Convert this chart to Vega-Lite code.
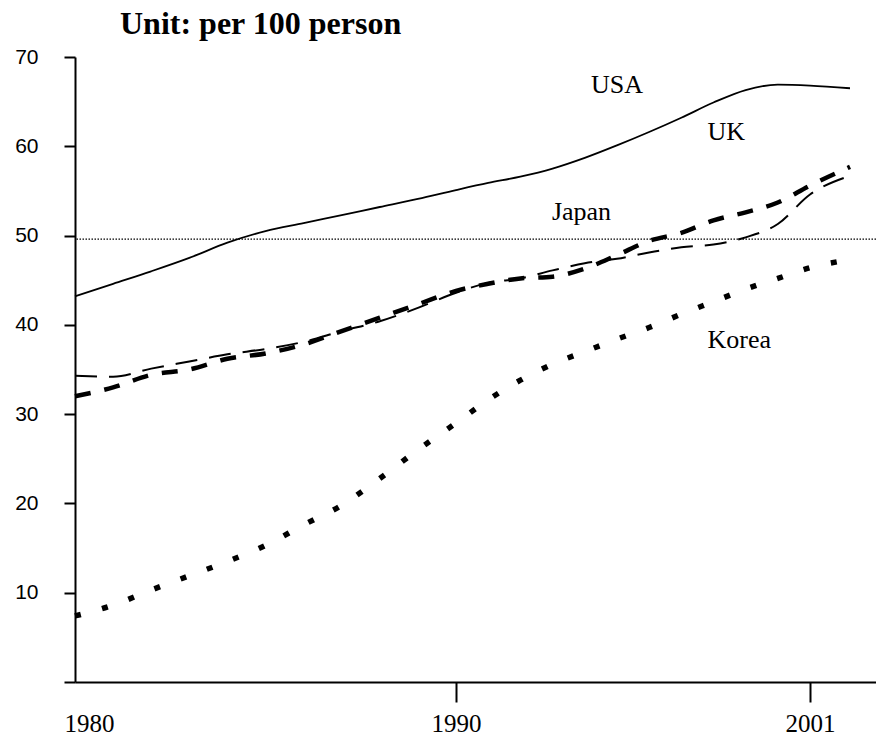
{
  "$schema": "https://vega.github.io/schema/vega-lite/v6.json",
  "width": 801,
  "height": 625,
  "autosize": "none",
  "padding": {"left": 75, "top": 57, "right": 0, "bottom": 53},
  "background": "white",
  "title": {
    "text": "Unit: per 100 person",
    "anchor": "start",
    "frame": "group",
    "dx": 45,
    "dy": 30,
    "offset": 10,
    "baseline": "alphabetic",
    "font": "Liberation Serif",
    "fontSize": 32,
    "fontWeight": "bold",
    "color": "black"
  },
  "config": {
    "view": {"stroke": null},
    "axis": {"grid": false, "domainColor": "black", "tickColor": "black", "labelColor": "black", "title": null}
  },
  "datasets": {
    "series": [
      {"country": "USA", "year": 1980, "value": 43.2}, {"country": "USA", "year": 1981, "value": 44.6}, {"country": "USA", "year": 1982, "value": 46.0}, {"country": "USA", "year": 1983, "value": 47.5}, {"country": "USA", "year": 1984, "value": 49.2}, {"country": "USA", "year": 1985, "value": 50.5}, {"country": "USA", "year": 1986, "value": 51.4}, {"country": "USA", "year": 1987, "value": 52.3}, {"country": "USA", "year": 1988, "value": 53.2}, {"country": "USA", "year": 1989, "value": 54.1}, {"country": "USA", "year": 1990, "value": 55.1}, {"country": "USA", "year": 1991, "value": 55.9}, {"country": "USA", "year": 1992, "value": 56.6}, {"country": "USA", "year": 1993, "value": 57.5}, {"country": "USA", "year": 1994, "value": 58.7}, {"country": "USA", "year": 1995, "value": 60.1}, {"country": "USA", "year": 1996, "value": 61.6}, {"country": "USA", "year": 1997, "value": 63.2}, {"country": "USA", "year": 1998, "value": 64.9}, {"country": "USA", "year": 1999, "value": 66.3}, {"country": "USA", "year": 2000, "value": 66.9}, {"country": "USA", "year": 2001, "value": 66.8}, {"country": "USA", "year": 2002, "value": 66.5},
      {"country": "Japan", "year": 1980, "value": 34.3}, {"country": "Japan", "year": 1981, "value": 34.2}, {"country": "Japan", "year": 1982, "value": 35.1}, {"country": "Japan", "year": 1983, "value": 35.9}, {"country": "Japan", "year": 1984, "value": 36.7}, {"country": "Japan", "year": 1985, "value": 37.3}, {"country": "Japan", "year": 1986, "value": 38.1}, {"country": "Japan", "year": 1987, "value": 39.3}, {"country": "Japan", "year": 1988, "value": 40.4}, {"country": "Japan", "year": 1989, "value": 41.9}, {"country": "Japan", "year": 1990, "value": 43.6}, {"country": "Japan", "year": 1991, "value": 44.7}, {"country": "Japan", "year": 1992, "value": 45.2}, {"country": "Japan", "year": 1993, "value": 46.1}, {"country": "Japan", "year": 1994, "value": 46.9}, {"country": "Japan", "year": 1995, "value": 47.4}, {"country": "Japan", "year": 1996, "value": 48.1}, {"country": "Japan", "year": 1997, "value": 48.7}, {"country": "Japan", "year": 1998, "value": 49.0}, {"country": "Japan", "year": 1999, "value": 49.8}, {"country": "Japan", "year": 2000, "value": 51.3}, {"country": "Japan", "year": 2001, "value": 54.6}, {"country": "Japan", "year": 2002, "value": 56.7},
      {"country": "UK", "year": 1980, "value": 32.0}, {"country": "UK", "year": 1981, "value": 33.0}, {"country": "UK", "year": 1982, "value": 34.4}, {"country": "UK", "year": 1983, "value": 35.0}, {"country": "UK", "year": 1984, "value": 36.2}, {"country": "UK", "year": 1985, "value": 36.8}, {"country": "UK", "year": 1986, "value": 37.8}, {"country": "UK", "year": 1987, "value": 39.3}, {"country": "UK", "year": 1988, "value": 40.8}, {"country": "UK", "year": 1989, "value": 42.3}, {"country": "UK", "year": 1990, "value": 43.8}, {"country": "UK", "year": 1991, "value": 44.6}, {"country": "UK", "year": 1992, "value": 45.2}, {"country": "UK", "year": 1993, "value": 45.4}, {"country": "UK", "year": 1994, "value": 46.3}, {"country": "UK", "year": 1995, "value": 47.8}, {"country": "UK", "year": 1996, "value": 49.4}, {"country": "UK", "year": 1997, "value": 50.3}, {"country": "UK", "year": 1998, "value": 51.7}, {"country": "UK", "year": 1999, "value": 52.6}, {"country": "UK", "year": 2000, "value": 53.7}, {"country": "UK", "year": 2001, "value": 55.6}, {"country": "UK", "year": 2002, "value": 57.7},
      {"country": "Korea", "year": 1980, "value": 7.4}, {"country": "Korea", "year": 1981, "value": 8.6}, {"country": "Korea", "year": 1982, "value": 10.3}, {"country": "Korea", "year": 1983, "value": 11.9}, {"country": "Korea", "year": 1984, "value": 13.5}, {"country": "Korea", "year": 1985, "value": 15.3}, {"country": "Korea", "year": 1986, "value": 17.6}, {"country": "Korea", "year": 1987, "value": 19.8}, {"country": "Korea", "year": 1988, "value": 22.8}, {"country": "Korea", "year": 1989, "value": 26.0}, {"country": "Korea", "year": 1990, "value": 29.0}, {"country": "Korea", "year": 1991, "value": 31.6}, {"country": "Korea", "year": 1992, "value": 33.8}, {"country": "Korea", "year": 1993, "value": 35.6}, {"country": "Korea", "year": 1994, "value": 37.0}, {"country": "Korea", "year": 1995, "value": 38.4}, {"country": "Korea", "year": 1996, "value": 39.7}, {"country": "Korea", "year": 1997, "value": 41.2}, {"country": "Korea", "year": 1998, "value": 42.6}, {"country": "Korea", "year": 1999, "value": 44.0}, {"country": "Korea", "year": 2000, "value": 45.2}, {"country": "Korea", "year": 2001, "value": 46.4}, {"country": "Korea", "year": 2002, "value": 47.3}
    ],
    "labels": [
      {"name": "USA", "year": 1995.0, "value": 66.0},
      {"name": "UK", "year": 1998.4, "value": 60.7},
      {"name": "Japan", "year": 1993.9, "value": 51.7},
      {"name": "Korea", "year": 1998.8, "value": 37.4}
    ],
    "ref": [{"value": 49.6}]
  },
  "layer": [
    {
      "data": {"name": "ref"},
      "mark": {"type": "rule", "color": "black", "strokeWidth": 1.2, "strokeDash": [1.5, 1.5]},
      "encoding": {
        "y": {"field": "value", "type": "quantitative", "scale": {"domain": [0, 70], "nice": false, "zero": true},
          "axis": {"values": [0, 10, 20, 30, 40, 50, 60, 70], "labelExpr": "datum.value == 0 ? '' : datum.label", "tickSize": 11, "tickWidth": 2, "domainWidth": 2, "labelPadding": 26, "labelFont": "Liberation Sans", "labelFontSize": 21, "labelBaseline": "middle"}}
      }
    },
    {
      "data": {"name": "series"},
      "transform": [{"filter": "datum.country == 'Korea'"}],
      "mark": {"type": "line", "color": "black", "strokeWidth": 5.5, "strokeDash": [6, 22], "interpolate": "monotone"},
      "encoding": {
        "x": {"field": "year", "type": "quantitative",
          "scale": {"domain": [1980, 1990, 2001, 2002, 2002.6], "range": [0, 381, 735, 775, 801], "nice": false, "zero": false},
          "axis": {"values": [1980, 1990, 2001], "format": "d", "tickSize": 20, "tickWidth": 2, "domainWidth": 2, "labelPadding": 29, "labelBaseline": "alphabetic", "labelFont": "Liberation Serif", "labelFontSize": 25, "labelFlush": true, "labelFlushOffset": 11,
            "tickOpacity": {"condition": {"test": "datum.value == 1980", "value": 0}, "value": 1}}},
        "y": {"field": "value", "type": "quantitative", "scale": {"domain": [0, 70], "nice": false, "zero": true}}
      }
    },
    {
      "data": {"name": "series"},
      "transform": [{"filter": "datum.country == 'Japan'"}],
      "mark": {"type": "line", "color": "black", "strokeWidth": 2, "strokeDash": [22, 12], "interpolate": "monotone"},
      "encoding": {
        "x": {"field": "year", "type": "quantitative", "scale": {"domain": [1980, 1990, 2001, 2002, 2002.6], "range": [0, 381, 735, 775, 801], "nice": false, "zero": false}},
        "y": {"field": "value", "type": "quantitative", "scale": {"domain": [0, 70], "nice": false, "zero": true}}
      }
    },
    {
      "data": {"name": "series"},
      "transform": [{"filter": "datum.country == 'UK'"}],
      "mark": {"type": "line", "color": "black", "strokeWidth": 4.5, "strokeDash": [16, 14], "interpolate": "monotone"},
      "encoding": {
        "x": {"field": "year", "type": "quantitative", "scale": {"domain": [1980, 1990, 2001, 2002, 2002.6], "range": [0, 381, 735, 775, 801], "nice": false, "zero": false}},
        "y": {"field": "value", "type": "quantitative", "scale": {"domain": [0, 70], "nice": false, "zero": true}}
      }
    },
    {
      "data": {"name": "series"},
      "transform": [{"filter": "datum.country == 'USA'"}],
      "mark": {"type": "line", "color": "black", "strokeWidth": 1.8, "interpolate": "monotone"},
      "encoding": {
        "x": {"field": "year", "type": "quantitative", "scale": {"domain": [1980, 1990, 2001, 2002, 2002.6], "range": [0, 381, 735, 775, 801], "nice": false, "zero": false}},
        "y": {"field": "value", "type": "quantitative", "scale": {"domain": [0, 70], "nice": false, "zero": true}}
      }
    },
    {
      "data": {"name": "labels"},
      "mark": {"type": "text", "font": "Liberation Serif", "fontSize": 26, "color": "black", "align": "center", "baseline": "alphabetic"},
      "encoding": {
        "x": {"field": "year", "type": "quantitative", "scale": {"domain": [1980, 1990, 2001, 2002, 2002.6], "range": [0, 381, 735, 775, 801], "nice": false, "zero": false}},
        "y": {"field": "value", "type": "quantitative", "scale": {"domain": [0, 70], "nice": false, "zero": true}},
        "text": {"field": "name"}
      }
    }
  ]
}
